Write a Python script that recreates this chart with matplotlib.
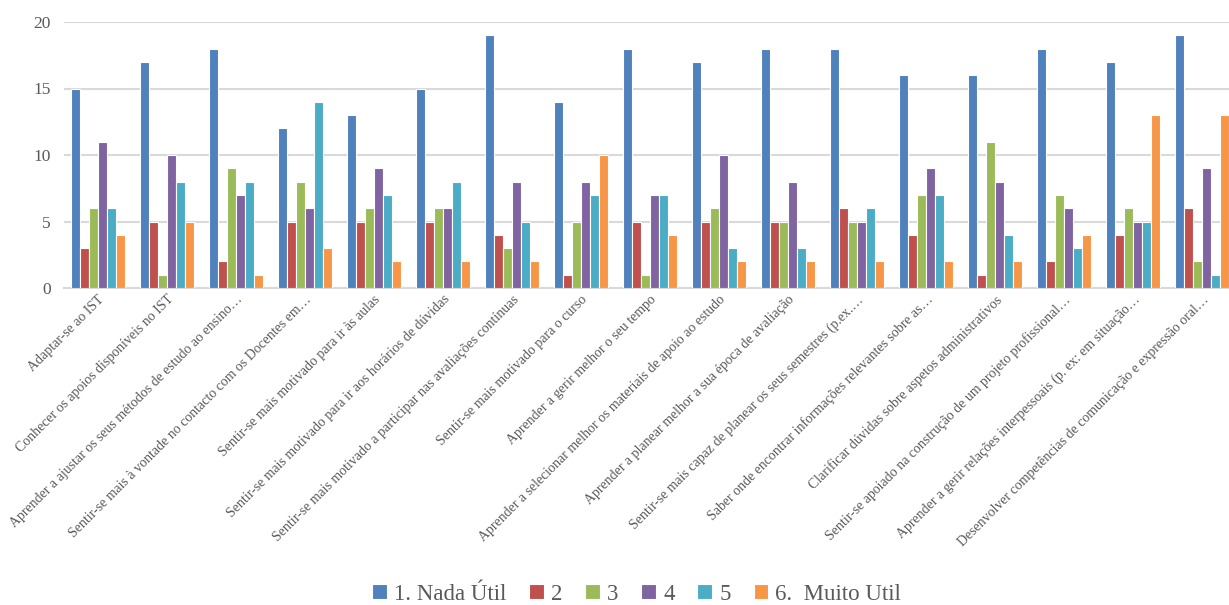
import numpy as np
import matplotlib
matplotlib.use('Agg')
import matplotlib.pyplot as plt

# categories (x axis)
categories = [
    'Adaptar-se ao IST',
    'Conhecer os apoios disponíveis no IST',
    'Aprender a ajustar os seus métodos de estudo ao ensino…',
    'Sentir-se mais à vontade no contacto com os Docentes em…',
    'Sentir-se mais motivado para ir às aulas',
    'Sentir-se mais motivado para ir aos horários de dúvidas',
    'Sentir-se mais motivado a participar nas avaliações contínuas',
    'Sentir-se mais motivado para o curso',
    'Aprender a gerir melhor o seu tempo',
    'Aprender a selecionar melhor os materiais de apoio ao estudo',
    'Aprender a planear melhor a sua época de avaliação',
    'Sentir-se mais capaz de planear os seus semestres (p.ex.…',
    'Saber onde encontrar informações relevantes sobre as…',
    'Clarificar dúvidas sobre aspetos administrativos',
    'Sentir-se apoiado na construção de um projeto profissional…',
    'Aprender a gerir relações interpessoais (p. ex: em situação…',
    'Desenvolver competências de comunicação e expressão oral…',
]

series_names = ['1. Nada Útil', '2', '3', '4', '5', '6.  Muito Util']

nada_util = [15, 17, 18, 12, 13, 15, 19, 14, 18, 17, 18, 18, 16, 16, 18, 17, 19]
s2 = [3, 5, 2, 5, 5, 5, 4, 1, 5, 5, 5, 6, 4, 1, 2, 4, 6]
s3 = [6, 1, 9, 8, 6, 6, 3, 5, 1, 6, 5, 5, 7, 11, 7, 6, 2]
s4 = [11, 10, 7, 6, 9, 6, 8, 8, 7, 10, 8, 5, 9, 8, 6, 5, 9]
s5 = [6, 8, 8, 14, 7, 8, 5, 7, 7, 3, 3, 6, 7, 4, 3, 5, 1]
muito_util = [4, 5, 1, 3, 2, 2, 2, 10, 4, 2, 2, 2, 2, 2, 4, 13, 13]

all_series = [nada_util, s2, s3, s4, s5, muito_util]
colors = ['#4F81BD', '#C0504D', '#9BBB59', '#8064A2', '#4BACC6', '#F79646']

fig = plt.figure(figsize=(12.29, 6.05), dpi=100)
ax = fig.add_axes([63.5 / 1229, 1 - 288 / 605, 1173 / 1229, 266 / 605])

x = np.arange(len(categories))
bw = 0.13
for i, vals in enumerate(all_series):
    ax.bar(x + (i - 2.5) * bw, vals, width=bw, color=colors[i],
           edgecolor='white', linewidth=0.8, label=series_names[i], zorder=3)

ax.set_xlim(-0.5, len(categories) - 0.5)
ax.set_ylim(0, 20)
ax.set_yticks([0, 5, 10, 15, 20])
ax.yaxis.grid(True, color='#D9D9D9', linewidth=1.5, zorder=0)
ax.set_axisbelow(True)
for s in ['top', 'right', 'left']:
    ax.spines[s].set_visible(False)
ax.spines['bottom'].set_color('#D9D9D9')
ax.spines['bottom'].set_linewidth(1.5)
ax.tick_params(axis='both', length=0)
ax.tick_params(axis='y', labelsize=12.5, labelcolor='#595959', pad=9)

ax.set_xticks(x)
ax.set_xticklabels(categories, rotation=45, ha='right', rotation_mode='anchor',
                   fontsize=10, color='#595959', family='Liberation Serif')
for lab in ax.get_yticklabels():
    lab.set_family('Liberation Serif')

leg = fig.legend(loc='center', bbox_to_anchor=(0.518, 0.018), ncol=6,
                 frameon=False, prop={'family': 'Liberation Serif', 'size': 16.5},
                 handlelength=0.65, handleheight=0.65, handletextpad=0.3,
                 columnspacing=1.0)
for t in leg.get_texts():
    t.set_color('#595959')

fig.savefig('out.png', dpi=100)
